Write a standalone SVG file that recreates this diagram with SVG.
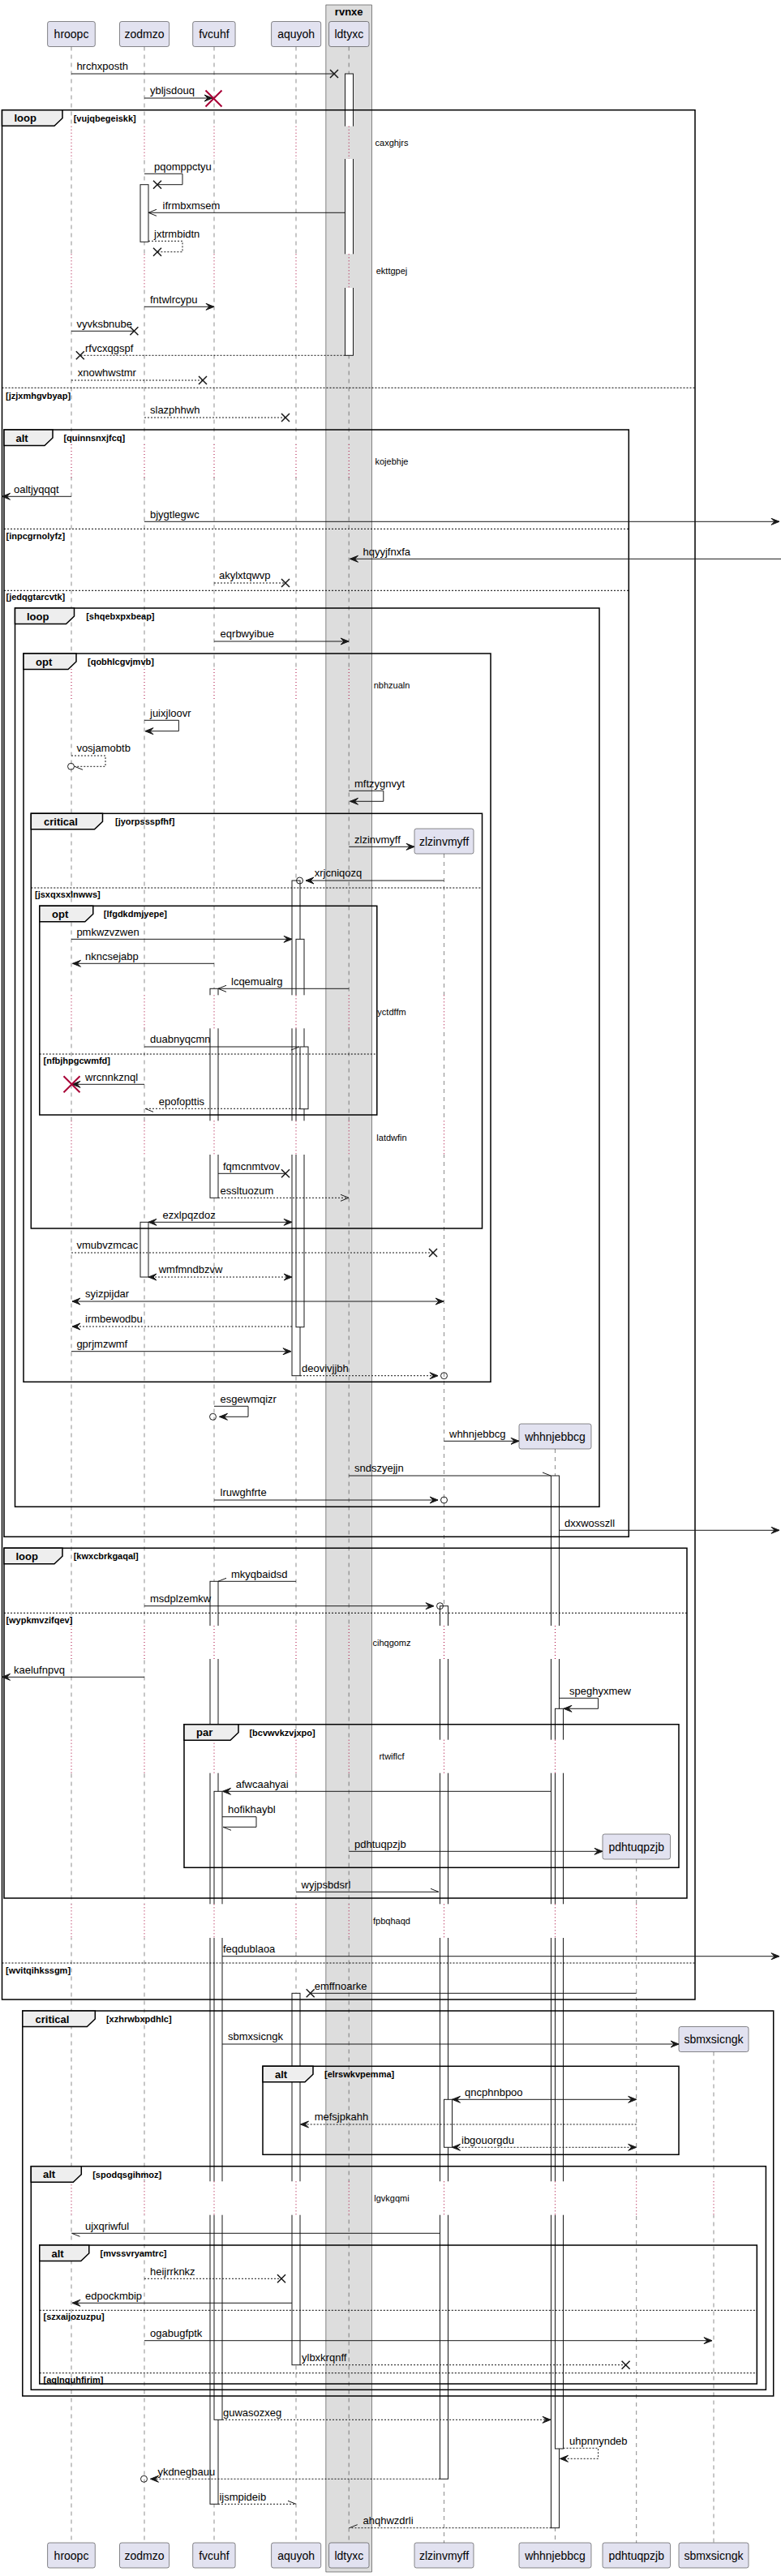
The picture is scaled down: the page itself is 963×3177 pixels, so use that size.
<svg xmlns="http://www.w3.org/2000/svg" width="963" height="3177" viewBox="0 0 963 3177">
<style>
.pb{fill:#E2E2F0;stroke:#181818;stroke-width:0.5}
.pt{font-family:"Liberation Sans",Arial,sans-serif;font-size:14px;fill:#000;text-anchor:middle}
.ll{stroke:#181818;stroke-width:0.5;stroke-dasharray:5 5;fill:none}
.dl{stroke:#A80036;stroke-width:1;stroke-dasharray:1 3;fill:none}
.act{fill:#fff;stroke:#181818;stroke-width:1}
.m{stroke:#181818;stroke-width:1;fill:none}
.d{stroke-dasharray:2 2}
.mt{font-family:"Liberation Sans",Arial,sans-serif;font-size:13px;fill:#000}
.fr{fill:none;stroke:#000;stroke-width:1.5}
.tab{fill:#EEEEEE;stroke:#000;stroke-width:1.5}
.tl{font-family:"Liberation Sans",Arial,sans-serif;font-size:13px;font-weight:bold;fill:#000}
.cd{font-family:"Liberation Sans",Arial,sans-serif;font-size:11px;font-weight:bold;fill:#000}
.sep{stroke:#000;stroke-width:1;stroke-dasharray:2 2;fill:none}
.dt{font-family:"Liberation Sans",Arial,sans-serif;font-size:11px;fill:#000;text-anchor:middle}
.rx{stroke:#A80036;stroke-width:2;fill:none}
.oc{fill:none;stroke:#181818;stroke-width:1}
</style>
<defs>
<marker id="af" viewBox="-12 -6 14 12" refX="0" refY="0" markerWidth="14" markerHeight="12" markerUnits="userSpaceOnUse" orient="auto-start-reverse"><path d="M0,0 L-10,-4 L-6,0 L-10,4 Z" fill="#181818" stroke="#181818" stroke-width="1"/></marker>
<marker id="ao" viewBox="-12 -6 14 12" refX="0" refY="0" markerWidth="14" markerHeight="12" markerUnits="userSpaceOnUse" orient="auto-start-reverse"><path d="M-10,-4 L0,0 L-10,4" fill="none" stroke="#181818" stroke-width="1"/></marker>
<marker id="hu" viewBox="-12 -6 14 12" refX="0" refY="0" markerWidth="14" markerHeight="12" markerUnits="userSpaceOnUse" orient="auto"><path d="M-10,-4 L0,0" fill="none" stroke="#181818" stroke-width="1"/></marker>
<marker id="hd" viewBox="-12 -6 14 12" refX="0" refY="0" markerWidth="14" markerHeight="12" markerUnits="userSpaceOnUse" orient="auto"><path d="M-10,4 L0,0" fill="none" stroke="#181818" stroke-width="1"/></marker>
<marker id="ax" viewBox="-7 -7 14 14" refX="0" refY="0" markerWidth="14" markerHeight="14" markerUnits="userSpaceOnUse" orient="auto"><path d="M-5,-5 L5,5 M-5,5 L5,-5" fill="none" stroke="#181818" stroke-width="1.5"/></marker>
<g id="dm">
<rect x="85" y="0" width="6" height="1" fill="#fff"/>
<rect x="170" y="0" width="16" height="1" fill="#fff"/>
<rect x="256" y="0" width="21" height="1" fill="#fff"/>
<rect x="357" y="0" width="26" height="1" fill="#fff"/>
<rect x="423.5" y="0" width="14" height="1" fill="#DDDDDD"/>
<rect x="540" y="0" width="20" height="1" fill="#fff"/>
<rect x="677" y="0" width="20" height="1" fill="#fff"/>
<rect x="782" y="0" width="5.5" height="1" fill="#fff"/>
<rect x="877.5" y="0" width="5" height="1" fill="#fff"/>
</g>
</defs>
<rect width="963" height="3177" fill="#fff"/>
<g id="box-rvnxe">
<rect x="401.9" y="6" width="56.7" height="3166" fill="#DDDDDD" stroke="#181818" stroke-width="0.5"/>
<text class="tl" x="430.2" y="19" text-anchor="middle">rvnxe</text>
</g>
<g id="lifelines">
<path class="ll" d="M88,57.5V3136M178,57.5V3136M264,57.5V3136M365,57.5V3136M430.2,57.5V3136M547.5,1053V3136M684.5,1787V3136M784.7,2293V3136M880,2530.5V3136"/>
</g>
<g id="activations">
<rect class="act" x="425.5" y="91" width="10" height="347.3"/>
<rect class="act" x="173" y="227.7" width="10" height="70.6"/>
<rect class="act" x="360" y="1086" width="10" height="610.7"/>
<rect class="act" x="365" y="1158.3" width="10" height="478.4"/>
<rect class="act" x="370" y="1291" width="10" height="76.7"/>
<rect class="act" x="259" y="1219.3" width="10" height="258"/>
<rect class="act" x="173" y="1507.3" width="10" height="67.7"/>
<rect class="act" x="679.5" y="1820" width="10" height="1297.7"/>
<rect class="act" x="684.5" y="2107.3" width="10" height="912.7"/>
<rect class="act" x="259" y="1950.3" width="10" height="1138"/>
<rect class="act" x="264" y="2209.3" width="10" height="775"/>
<rect class="act" x="542.5" y="1980.7" width="10" height="1076.6"/>
<rect class="act" x="547.5" y="2589.3" width="10" height="59"/>
<rect class="act" x="360" y="2458.3" width="10" height="458.4"/>
</g>
<g id="delays">
<use href="#dm" transform="translate(0,155.7) scale(1,40.3)"/>
<use href="#dm" transform="translate(0,313.3) scale(1,41.7)"/>
<use href="#dm" transform="translate(0,548) scale(1,41)"/>
<use href="#dm" transform="translate(0,825) scale(1,40)"/>
<use href="#dm" transform="translate(0,1227.3) scale(1,41)"/>
<use href="#dm" transform="translate(0,1382.3) scale(1,41.7)"/>
<use href="#dm" transform="translate(0,2005) scale(1,41)"/>
<use href="#dm" transform="translate(0,2145.7) scale(1,41)"/>
<use href="#dm" transform="translate(0,2348.3) scale(1,41.7)"/>
<use href="#dm" transform="translate(0,2690.3) scale(1,41.4)"/>
<path class="dl" d="M88,155.7v40.3M178,155.7v40.3M264,155.7v40.3M365,155.7v40.3M430.2,155.7v40.3"/>
<path class="dl" d="M88,313.3v41.7M178,313.3v41.7M264,313.3v41.7M365,313.3v41.7M430.2,313.3v41.7"/>
<path class="dl" d="M88,548v41M178,548v41M264,548v41M365,548v41M430.2,548v41"/>
<path class="dl" d="M88,825v40M178,825v40M264,825v40M365,825v40M430.2,825v40"/>
<path class="dl" d="M88,1227.3v41M178,1227.3v41M264,1227.3v41M365,1227.3v41M430.2,1227.3v41M547.5,1227.3v41"/>
<path class="dl" d="M88,1382.3v41.7M178,1382.3v41.7M264,1382.3v41.7M365,1382.3v41.7M430.2,1382.3v41.7M547.5,1382.3v41.7"/>
<path class="dl" d="M88,2005v41M178,2005v41M264,2005v41M365,2005v41M430.2,2005v41M547.5,2005v41M684.5,2005v41"/>
<path class="dl" d="M88,2145.7v41M178,2145.7v41M264,2145.7v41M365,2145.7v41M430.2,2145.7v41M547.5,2145.7v41M684.5,2145.7v41"/>
<path class="dl" d="M88,2348.3v41.7M178,2348.3v41.7M264,2348.3v41.7M365,2348.3v41.7M430.2,2348.3v41.7M547.5,2348.3v41.7M684.5,2348.3v41.7M784.7,2348.3v41.7"/>
<path class="dl" d="M88,2690.3v41.4M178,2690.3v41.4M264,2690.3v41.4M365,2690.3v41.4M430.2,2690.3v41.4M547.5,2690.3v41.4M684.5,2690.3v41.4M784.7,2690.3v41.4M880,2690.3v41.4"/>
<text class="dt" x="483" y="180">caxghjrs</text>
<text class="dt" x="483" y="338">ekttgpej</text>
<text class="dt" x="483" y="572.5">kojebhje</text>
<text class="dt" x="483" y="849">nbhzualn</text>
<text class="dt" x="483" y="1251.8">yctdffm</text>
<text class="dt" x="483" y="1407">latdwfin</text>
<text class="dt" x="483" y="2029.5">cihqgomz</text>
<text class="dt" x="483" y="2170.2">rtwiflcf</text>
<text class="dt" x="483" y="2373">fpbqhaqd</text>
<text class="dt" x="483" y="2715">lgvkgqmi</text>
</g>
<g id="frames">
<g id="frame-loop-vujqbegeiskk">
<rect class="fr" x="2.5" y="135.7" width="854.5" height="2330.3"/>
<polygon class="tab" points="2.5,135.7 77,135.7 77,145.7 67,155.2 2.5,155.2"/>
<text class="tl" x="17.5" y="150.2">loop</text>
<text class="cd" x="90.7" y="149.7">[vujqbegeiskk]</text>
<path class="sep" d="M2.5,478.3H857M2.5,2421H857"/>
<text class="cd" x="7" y="491.5">[jzjxmhgvbyap]</text>
<text class="cd" x="7" y="2434">[wvitqihkssgm]</text>
</g>
<g id="frame-alt-quinnsnxjfcq">
<rect class="fr" x="5" y="530" width="770.3" height="1365.3"/>
<polygon class="tab" points="5,530 65,530 65,540 55,549.5 5,549.5"/>
<text class="tl" x="19.5" y="544.5">alt</text>
<text class="cd" x="78.4" y="544">[quinnsnxjfcq]</text>
<path class="sep" d="M5,652.3H775.3M5,728.3H775.3"/>
<text class="cd" x="7.5" y="664.5">[inpcgrnolyfz]</text>
<text class="cd" x="7.5" y="740">[jedqgtarcvtk]</text>
</g>
<g id="frame-loop-shqebxpxbeap">
<rect class="fr" x="18.5" y="750" width="720.5" height="1108.3"/>
<polygon class="tab" points="18.5,750 91.5,750 91.5,760 81.5,769.5 18.5,769.5"/>
<text class="tl" x="33" y="764.5">loop</text>
<text class="cd" x="106.2" y="764">[shqebxpxbeap]</text>
</g>
<g id="frame-opt-qobhlcgvjmvb">
<rect class="fr" x="29" y="806" width="576" height="898.3"/>
<polygon class="tab" points="29,806 94,806 94,816 84,825.5 29,825.5"/>
<text class="tl" x="44" y="820.5">opt</text>
<text class="cd" x="108" y="820">[qobhlcgvjmvb]</text>
</g>
<g id="frame-critical-jyorpssspfhf">
<rect class="fr" x="38.3" y="1003.3" width="556.2" height="511.7"/>
<polygon class="tab" points="38.3,1003.3 126.5,1003.3 126.5,1013.3 116.5,1022.8 38.3,1022.8"/>
<text class="tl" x="54" y="1017.8">critical</text>
<text class="cd" x="142" y="1017.3">[jyorpssspfhf]</text>
<path class="sep" d="M38.3,1095H594.5"/>
<text class="cd" x="43" y="1107">[jsxqxsxlnwws]</text>
</g>
<g id="frame-opt-lfgdkdmjyepe">
<rect class="fr" x="48.8" y="1117.3" width="416" height="257.7"/>
<polygon class="tab" points="48.8,1117.3 114.8,1117.3 114.8,1127.3 104.8,1136.8 48.8,1136.8"/>
<text class="tl" x="64" y="1131.8">opt</text>
<text class="cd" x="127.8" y="1131.3">[lfgdkdmjyepe]</text>
<path class="sep" d="M48.8,1300H464.8"/>
<text class="cd" x="53.5" y="1312">[nfbjhpgcwmfd]</text>
</g>
<g id="frame-loop-kwxcbrkgaqal">
<rect class="fr" x="5" y="1909.3" width="842" height="431.7"/>
<polygon class="tab" points="5,1909.3 77,1909.3 77,1919.3 67,1928.8 5,1928.8"/>
<text class="tl" x="19.5" y="1923.8">loop</text>
<text class="cd" x="90.7" y="1923.3">[kwxcbrkgaqal]</text>
<path class="sep" d="M5,1989.3H847"/>
<text class="cd" x="7.4" y="2001.5">[wypkmvzifqev]</text>
</g>
<g id="frame-par-bcvwvkzvjxpo">
<rect class="fr" x="227" y="2126.7" width="610" height="176.6"/>
<polygon class="tab" points="227,2126.7 294,2126.7 294,2136.7 284,2146.2 227,2146.2"/>
<text class="tl" x="242" y="2141.2">par</text>
<text class="cd" x="307.4" y="2140.7">[bcvwvkzvjxpo]</text>
</g>
<g id="frame-critical-xzhrwbxpdhlc">
<rect class="fr" x="27.8" y="2480" width="925.9" height="475"/>
<polygon class="tab" points="27.8,2480 117.3,2480 117.3,2490 107.3,2499.5 27.8,2499.5"/>
<text class="tl" x="43.5" y="2494.5">critical</text>
<text class="cd" x="130.9" y="2494">[xzhrwbxpdhlc]</text>
</g>
<g id="frame-alt-elrswkvpemma">
<rect class="fr" x="324" y="2548.3" width="513" height="109"/>
<polygon class="tab" points="324,2548.3 386,2548.3 386,2558.3 376,2567.8 324,2567.8"/>
<text class="tl" x="339" y="2562.8">alt</text>
<text class="cd" x="400" y="2562.3">[elrswkvpemma]</text>
</g>
<g id="frame-alt-spodqsgihmoz">
<rect class="fr" x="38.3" y="2671.7" width="906.1" height="275.6"/>
<polygon class="tab" points="38.3,2671.7 100.3,2671.7 100.3,2681.7 90.3,2691.2 38.3,2691.2"/>
<text class="tl" x="53" y="2686.2">alt</text>
<text class="cd" x="114.2" y="2685.7">[spodqsgihmoz]</text>
</g>
<g id="frame-alt-mvssvryamtrc">
<rect class="fr" x="48.8" y="2769" width="884.5" height="171"/>
<polygon class="tab" points="48.8,2769 109.8,2769 109.8,2779 99.8,2788.5 48.8,2788.5"/>
<text class="tl" x="63.5" y="2783.5">alt</text>
<text class="cd" x="123.5" y="2783">[mvssvryamtrc]</text>
<path class="sep" d="M48.8,2849.3H933.3M48.8,2926.7H933.3"/>
<text class="cd" x="53.5" y="2861">[szxaijozuzpu]</text>
<text class="cd" x="53.5" y="2938.5">[aqlnquhfirim]</text>
</g>
</g>
<g id="connectors">
<path class="m" d="M88,91H412" marker-end="url(#ax)"/><text class="mt" x="94.4" y="86">hrchxposth</text>
<path class="m" d="M178,121H262" marker-end="url(#af)"/><path class="rx" d="M253.5,111.5L273.5,131.5M273.5,111.5L253.5,131.5"/><text class="mt" x="185" y="116">ybljsdouq</text>
<path class="m" d="M178,214.3H225V227.7H194" marker-end="url(#ax)"/><text class="mt" x="190" y="209.5">pqomppctyu</text>
<path class="m" d="M425.5,262.3H183" marker-end="url(#ao)"/><text class="mt" x="200.6" y="257.5">ifrmbxmsem</text>
<path class="m d" d="M183,297.3H225V310.7H194" marker-end="url(#ax)"/><text class="mt" x="190" y="292.5">jxtrmbidtn</text>
<path class="m" d="M178,378.3H264" marker-end="url(#af)"/><text class="mt" x="185" y="373.5">fntwlrcypu</text>
<path class="m" d="M88,408.3H165.4" marker-end="url(#ax)"/><text class="mt" x="94.4" y="403.5">vyvksbnube</text>
<path class="m d" d="M425.5,438.3H98.8" marker-end="url(#ax)"/><text class="mt" x="105" y="433.5">rfvcxqgspf</text>
<path class="m d" d="M88,469H250" marker-end="url(#ax)"/><text class="mt" x="95.7" y="464">xnowhwstmr</text>
<path class="m d" d="M178,515H352" marker-end="url(#ax)"/><text class="mt" x="185" y="510">slazphhwh</text>
<path class="m" d="M88,612.3H2.5" marker-end="url(#af)"/><text class="mt" x="17" y="607.5">oaltjyqqqt</text>
<path class="m" d="M178,643.3H961" marker-end="url(#af)"/><text class="mt" x="185" y="638.5">bjygtlegwc</text>
<path class="m" d="M963,689.3H431.5" marker-end="url(#af)"/><text class="mt" x="447.5" y="684.5">hqyyjfnxfa</text>
<path class="m d" d="M264,719H352" marker-end="url(#ax)"/><text class="mt" x="270" y="714">akylxtqwvp</text>
<path class="m" d="M264,791H430" marker-end="url(#af)"/><text class="mt" x="271.6" y="786">eqrbwyibue</text>
<path class="m" d="M178,888.3H220.4V901.7H179" marker-end="url(#af)"/><text class="mt" x="185" y="883.5">juixjloovr</text>
<path class="m d" d="M88,932H130V945.3H92" marker-end="url(#hu)"/><circle class="oc" cx="87.5" cy="945.3" r="4"/><text class="mt" x="94.4" y="927">vosjamobtb</text>
<path class="m" d="M430.2,975.3H472.8V988.3H431.5" marker-end="url(#af)"/><text class="mt" x="437" y="970.5">mftzygnvyt</text>
<path class="m" d="M430.2,1044.3H511" marker-end="url(#af)"/><text class="mt" x="437" y="1039.5">zlzinvmyff</text>
<path class="m" d="M547.5,1086H377" marker-end="url(#af)"/><circle class="oc" cx="369.5" cy="1086" r="4"/><text class="mt" x="387.7" y="1081">xrjcniqozq</text>
<path class="m" d="M88,1158.3H360" marker-end="url(#af)"/><text class="mt" x="94.4" y="1153.5">pmkwzvzwen</text>
<path class="m" d="M264,1188.3H89.5" marker-end="url(#af)"/><text class="mt" x="105" y="1183.5">nkncsejabp</text>
<path class="m" d="M430.2,1219.3H269" marker-end="url(#ao)"/><text class="mt" x="285" y="1214.5">lcqemualrg</text>
<path class="m" d="M178,1291H369" marker-end="url(#hd)"/><text class="mt" x="185" y="1286">duabnyqcmn</text>
<path class="m" d="M178,1337.3H89" marker-end="url(#af)"/><path class="rx" d="M78.5,1327.3L98.5,1347.3M98.5,1327.3L78.5,1347.3"/><text class="mt" x="105" y="1332.5">wrcnnkznql</text>
<path class="m d" d="M370,1367.3H179" marker-end="url(#hu)"/><text class="mt" x="195.7" y="1362.5">epofopttis</text>
<path class="m" d="M269,1447.3H352" marker-end="url(#ax)"/><text class="mt" x="275" y="1442.5">fqmcnmtvov</text>
<path class="m d" d="M269,1477.3H430" marker-end="url(#ao)"/><text class="mt" x="271.6" y="1472.5">essltuozum</text>
<path class="m" d="M183,1507.3H360" marker-start="url(#af)" marker-end="url(#af)"/><text class="mt" x="200.6" y="1502.5">ezxlpqzdoz</text>
<path class="m d" d="M88,1545H534" marker-end="url(#ax)"/><text class="mt" x="94.4" y="1540">vmubvzmcac</text>
<path class="m d" d="M183,1575H360" marker-start="url(#af)" marker-end="url(#af)"/><text class="mt" x="195.7" y="1570">wmfmndbzvw</text>
<path class="m" d="M89,1605H547" marker-start="url(#af)" marker-end="url(#af)"/><text class="mt" x="105" y="1600">syizpijdar</text>
<path class="m d" d="M360,1636H89" marker-end="url(#af)"/><text class="mt" x="105" y="1631">irmbewodbu</text>
<path class="m" d="M88,1666.7H359" marker-end="url(#af)"/><text class="mt" x="94.4" y="1662">gprjmzwmf</text>
<path class="m d" d="M370,1696.7H540" marker-end="url(#af)"/><circle class="oc" cx="547.5" cy="1696.7" r="4"/><text class="mt" x="372" y="1692">deovivjjbh</text>
<path class="m" d="M264,1734.3H306V1747.3H270.5" marker-end="url(#af)"/><circle class="oc" cx="262.5" cy="1747.3" r="4"/><text class="mt" x="271.6" y="1729.5">esgewmqizr</text>
<path class="m" d="M547.5,1777.3H640" marker-end="url(#af)"/><text class="mt" x="554" y="1772.5">whhnjebbcg</text>
<path class="m" d="M430.2,1820H679" marker-end="url(#hu)"/><text class="mt" x="437" y="1815">sndszyejjn</text>
<path class="m" d="M264,1850H540" marker-end="url(#af)"/><circle class="oc" cx="547.5" cy="1850" r="4"/><text class="mt" x="271.6" y="1845">lruwghfrte</text>
<path class="m" d="M689.5,1887.3H961" marker-end="url(#af)"/><text class="mt" x="696" y="1882.5">dxxwosszll</text>
<path class="m" d="M365,1950.3H269" marker-end="url(#hd)"/><text class="mt" x="285" y="1945.5">mkyqbaidsd</text>
<path class="m" d="M178,1980.7H535" marker-end="url(#af)"/><circle class="oc" cx="542.5" cy="1980.7" r="4"/><text class="mt" x="185" y="1976">msdplzemkw</text>
<path class="m" d="M178,2068.3H2.5" marker-end="url(#af)"/><text class="mt" x="17" y="2063.5">kaelufnpvq</text>
<path class="m" d="M689.5,2094.3H737.6V2107.3H695" marker-end="url(#af)"/><text class="mt" x="702" y="2089.5">speghyxmew</text>
<path class="m" d="M679.5,2209.3H274.5" marker-end="url(#af)"/><text class="mt" x="290.7" y="2204.5">afwcaahyai</text>
<path class="m" d="M274,2240.7H316V2253.3H275" marker-end="url(#hu)"/><text class="mt" x="281" y="2236">hofikhaybl</text>
<path class="m" d="M430.2,2283.3H743" marker-end="url(#af)"/><text class="mt" x="437" y="2278.5">pdhtuqpzjb</text>
<path class="m" d="M365,2333.3H541" marker-end="url(#hu)"/><text class="mt" x="371.6" y="2328.5">wyjpsbdsrl</text>
<path class="m" d="M274,2412.7H961" marker-end="url(#af)"/><text class="mt" x="275" y="2408">feqdublaoa</text>
<path class="m" d="M784.7,2458.3H382.7" marker-end="url(#ax)"/><text class="mt" x="387.7" y="2453.5">emffnoarke</text>
<path class="m" d="M274,2521H837" marker-end="url(#af)"/><text class="mt" x="281" y="2516">sbmxsicngk</text>
<path class="m" d="M557.5,2589.3H784.7" marker-start="url(#af)" marker-end="url(#af)"/><text class="mt" x="573" y="2584.5">qncphnbpoo</text>
<path class="m d" d="M784.7,2620H370.5" marker-end="url(#af)"/><text class="mt" x="387.7" y="2615">mefsjpkahh</text>
<path class="m d" d="M557.5,2648.3H784.7" marker-start="url(#af)" marker-end="url(#af)"/><text class="mt" x="569" y="2643.5">ibgouorgdu</text>
<path class="m" d="M542.5,2754.3H88.5" marker-end="url(#hu)"/><text class="mt" x="105" y="2749.5">ujxqriwful</text>
<path class="m d" d="M178,2810.3H347" marker-end="url(#ax)"/><text class="mt" x="185" y="2805.5">heijrrknkz</text>
<path class="m" d="M360,2840.3H89" marker-end="url(#af)"/><text class="mt" x="105" y="2835.5">edpockmbip</text>
<path class="m" d="M178,2886.7H878" marker-end="url(#af)"/><text class="mt" x="185" y="2882">ogabugfptk</text>
<path class="m d" d="M370,2916.7H771.6" marker-end="url(#ax)"/><text class="mt" x="372" y="2912">ylbxkrqnff</text>
<path class="m d" d="M274,2984.3H679" marker-end="url(#af)"/><text class="mt" x="275" y="2979.5">guwasozxeg</text>
<path class="m d" d="M694.5,3019.3H737.6V3032.3H690.5" marker-end="url(#af)"/><text class="mt" x="702" y="3014.5">uhpnnyndeb</text>
<path class="m d" d="M542.5,3057.3H185.5" marker-end="url(#af)"/><circle class="oc" cx="177.5" cy="3057.3" r="4"/><text class="mt" x="194.4" y="3052.5">ykdnegbauu</text>
<path class="m d" d="M269,3088.3H365" marker-end="url(#hu)"/><text class="mt" x="270.4" y="3083.5">ijsmpideib</text>
<path class="m d" d="M679.5,3117.7H430.7" marker-end="url(#hd)"/><text class="mt" x="447.5" y="3113">ahqhwzdrli</text>
</g>
<g id="participants">
<g id="p-hroopc"><rect class="pb" x="58.6" y="26.5" width="58.7" height="31" rx="2.5"/><text class="pt" x="88" y="47">hroopc</text><rect class="pb" x="58.6" y="3136" width="58.7" height="31" rx="2.5"/><text class="pt" x="88" y="3156.5">hroopc</text></g>
<g id="p-zodmzo"><rect class="pb" x="147.5" y="26.5" width="61.1" height="31" rx="2.5"/><text class="pt" x="178" y="47">zodmzo</text><rect class="pb" x="147.5" y="3136" width="61.1" height="31" rx="2.5"/><text class="pt" x="178" y="3156.5">zodmzo</text></g>
<g id="p-fvcuhf"><rect class="pb" x="237.7" y="26.5" width="52.4" height="31" rx="2.5"/><text class="pt" x="263.9" y="47">fvcuhf</text><rect class="pb" x="237.7" y="3136" width="52.4" height="31" rx="2.5"/><text class="pt" x="263.9" y="3156.5">fvcuhf</text></g>
<g id="p-aquyoh"><rect class="pb" x="334.6" y="26.5" width="61.1" height="31" rx="2.5"/><text class="pt" x="365.1" y="47">aquyoh</text><rect class="pb" x="334.6" y="3136" width="61.1" height="31" rx="2.5"/><text class="pt" x="365.1" y="3156.5">aquyoh</text></g>
<g id="p-ldtyxc"><rect class="pb" x="405.6" y="26.5" width="49.4" height="31" rx="2.5"/><text class="pt" x="430.3" y="47">ldtyxc</text><rect class="pb" x="405.6" y="3136" width="49.4" height="31" rx="2.5"/><text class="pt" x="430.3" y="3156.5">ldtyxc</text></g>
<g id="p-zlzinvmyff"><rect class="pb" x="511" y="1022" width="73" height="31" rx="2.5"/><text class="pt" x="547.5" y="1042.5">zlzinvmyff</text><rect class="pb" x="511" y="3136" width="73" height="31" rx="2.5"/><text class="pt" x="547.5" y="3156.5">zlzinvmyff</text></g>
<g id="p-whhnjebbcg"><rect class="pb" x="640" y="1756" width="89" height="31" rx="2.5"/><text class="pt" x="684.5" y="1776.5">whhnjebbcg</text><rect class="pb" x="640" y="3136" width="89" height="31" rx="2.5"/><text class="pt" x="684.5" y="3156.5">whhnjebbcg</text></g>
<g id="p-pdhtuqpzjb"><rect class="pb" x="743" y="2262" width="83.5" height="31" rx="2.5"/><text class="pt" x="784.75" y="2282.5">pdhtuqpzjb</text><rect class="pb" x="743" y="3136" width="83.5" height="31" rx="2.5"/><text class="pt" x="784.75" y="3156.5">pdhtuqpzjb</text></g>
<g id="p-sbmxsicngk"><rect class="pb" x="837" y="2499.5" width="86" height="31" rx="2.5"/><text class="pt" x="880" y="2520">sbmxsicngk</text><rect class="pb" x="837" y="3136" width="86" height="31" rx="2.5"/><text class="pt" x="880" y="3156.5">sbmxsicngk</text></g>
</g>
</svg>
